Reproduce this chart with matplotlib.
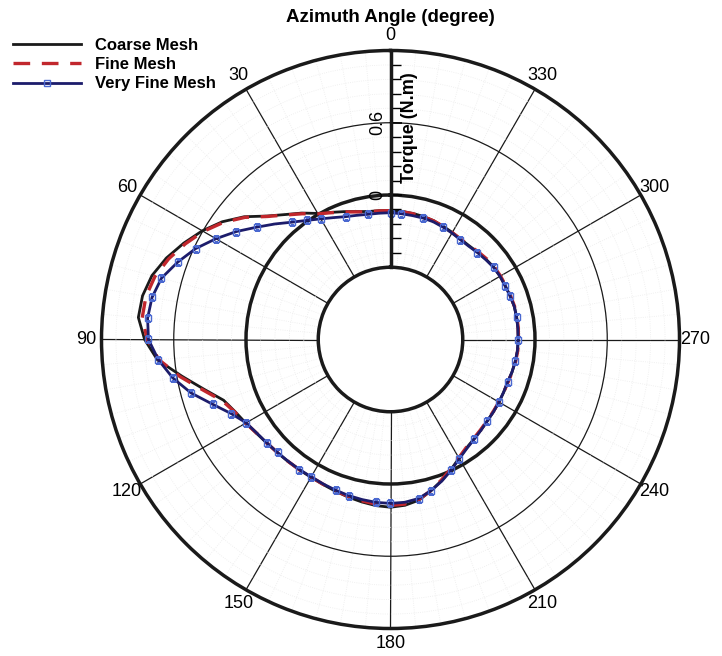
import numpy as np
import matplotlib
matplotlib.use("Agg")
import matplotlib.pyplot as plt
from matplotlib.lines import Line2D

plt.rcParams['font.family'] = ['Liberation Sans', 'DejaVu Sans']

# azimuth angle (deg) and torque (N.m) for the three meshes
azimuth = np.arange(0, 360, 5)

coarseTorque = [
    -0.128, -0.126, -0.121, -0.100, -0.070, -0.035, 0.009, 0.082, 0.155, 0.250, 0.386, 0.505,
    0.605, 0.694, 0.780, 0.851, 0.891, 0.902, 0.842, 0.743, 0.558, 0.401, 0.275, 0.222,
    0.188, 0.158, 0.140, 0.129, 0.123, 0.121, 0.121, 0.128, 0.140, 0.155, 0.170, 0.185,
    0.193, 0.182, 0.155, 0.100, 0.045, -0.010, -0.062, -0.100, -0.122, -0.138, -0.150, -0.156,
    -0.160, -0.163, -0.163, -0.155, -0.147, -0.141, -0.139, -0.137, -0.136, -0.136, -0.142, -0.148,
    -0.149, -0.153, -0.164, -0.175, -0.184, -0.183, -0.174, -0.163, -0.150, -0.142, -0.137, -0.131]

fineTorque = [
    -0.130, -0.128, -0.123, -0.103, -0.073, -0.038, 0.005, 0.075, 0.150, 0.245, 0.378, 0.495,
    0.595, 0.680, 0.760, 0.825, 0.862, 0.870, 0.820, 0.730, 0.575, 0.415, 0.287, 0.226,
    0.188, 0.157, 0.139, 0.128, 0.122, 0.120, 0.119, 0.126, 0.137, 0.149, 0.161, 0.172,
    0.178, 0.172, 0.150, 0.098, 0.040, -0.015, -0.066, -0.104, -0.126, -0.141, -0.152, -0.158,
    -0.161, -0.163, -0.162, -0.153, -0.145, -0.139, -0.137, -0.135, -0.134, -0.134, -0.139, -0.144,
    -0.145, -0.148, -0.158, -0.170, -0.182, -0.183, -0.175, -0.164, -0.152, -0.144, -0.139, -0.134]

veryFineTorque = [
    -0.147, -0.147, -0.144, -0.132, -0.114, -0.083, -0.043, 0.008, 0.072, 0.157, 0.251, 0.363,
    0.474, 0.586, 0.680, 0.769, 0.811, 0.825, 0.810, 0.735, 0.636, 0.515, 0.372, 0.258,
    0.184, 0.155, 0.138, 0.127, 0.121, 0.118, 0.117, 0.123, 0.132, 0.142, 0.150, 0.158,
    0.161, 0.157, 0.141, 0.100, 0.050, -0.004, -0.057, -0.095, -0.119, -0.136, -0.149, -0.155,
    -0.160, -0.164, -0.165, -0.156, -0.148, -0.142, -0.140, -0.138, -0.137, -0.136, -0.143, -0.149,
    -0.150, -0.155, -0.168, -0.179, -0.189, -0.188, -0.179, -0.170, -0.160, -0.156, -0.155, -0.152]

angleTicks = list(range(0, 360, 30))
rMin, rMax, rOrigin = -0.6, 1.2, -1.2


def closeLoop(values):
    """ Repeat the first point so the polar curve closes at 360 deg. """
    return np.append(values, values[0])


W, H = 722, 656
fig = plt.figure(figsize=(W / 100, H / 100), dpi=100)

# polar axes: 0 deg at top, angle increasing counter-clockwise
cx, cy, R = 390.5, 339.5, 289.0
ax = fig.add_axes([(cx - R) / W, (H - cy - R) / H, 2 * R / W, 2 * R / H],
                  projection='polar')
ax.set_theta_zero_location('N')
ax.set_theta_direction(1)
ax.set_rorigin(rOrigin)
ax.set_ylim(rMin, rMax)

theta = np.deg2rad(closeLoop(azimuth))
ax.plot(theta, closeLoop(coarseTorque), color='#1a1a1a', lw=2.0, zorder=3)
ax.plot(theta, closeLoop(fineTorque), color='#c1272d', lw=2.4,
        dashes=(5, 3.5), zorder=4)
ax.plot(theta, closeLoop(veryFineTorque), color='#1c1c6b', lw=2.0,
        marker='s', ms=5, mfc='none', mec='#4a68d0', mew=1.0,
        markevery=0.026, zorder=5)

# angular grid and ticks
ax.set_thetagrids(angleTicks, [str(a) for a in angleTicks], fontsize=13)
ax.set_xticks(np.deg2rad(np.arange(0, 360, 5)), minor=True)
ax.tick_params(axis='x', which='major', direction='in', length=11, width=2.5,
               pad=4)
ax.tick_params(axis='x', which='minor', direction='in', length=6, width=1.0)

# radial grid: thick circle at zero torque, thin one at 0.6
ax.set_yticks([0.0, 0.6])
ax.set_yticks(np.arange(-0.48, 1.2, 0.12), minor=True)
ax.set_yticklabels([])
ax.tick_params(axis='y', which='both', length=0)
ax.grid(which='major', color='#1a1a1a', lw=0.9, ls='-')
ax.grid(which='minor', color='#ececec', lw=0.6, ls=':')
ax.yaxis.get_gridlines()[0].set_linewidth(2.5)

for name in ('polar', 'inner'):
    ax.spines[name].set_linewidth(2.5)
    ax.spines[name].set_color('#1a1a1a')

# radial axis drawn along the 0 deg direction
rpx = R / (rMax - rOrigin)
yBottom = H - cy + (rMin - rOrigin) * rpx
axR = fig.add_axes([cx / W, yBottom / H, 0.01, (rMax - rMin) * rpx / H])
axR.set_ylim(rMin, rMax)
axR.patch.set_visible(False)
for side in ('top', 'right', 'bottom'):
    axR.spines[side].set_visible(False)
axR.spines['left'].set_linewidth(2.5)
axR.spines['left'].set_color('#1a1a1a')
axR.set_xticks([])
axR.set_yticks([0.0, 0.6])
axR.set_yticklabels(['0', '0.6'], fontsize=13, rotation=90, va='center')
axR.set_yticks(np.arange(-0.48, 1.2, 0.12), minor=True)
axR.tick_params(axis='y', which='major', direction='in', length=8, width=1.2,
                pad=3)
axR.tick_params(axis='y', which='minor', direction='in', length=7, width=1.0)

fig.text(410 / W, 1 - 128 / H, 'Torque (N.m)', rotation=90, fontsize=13,
         fontweight='bold', ha='center', va='center')
fig.text(cx / W, 1 - 17 / H, 'Azimuth Angle (degree)', fontsize=13.5,
         fontweight='bold', ha='center', va='center')

handles = [
    Line2D([], [], color='#1a1a1a', lw=2.0),
    Line2D([], [], color='#c1272d', lw=2.4, dashes=(5, 3.5)),
    Line2D([], [], color='#1c1c6b', lw=2.0, marker='s', ms=5, mfc='none',
           mec='#4a68d0', mew=1.0),
]
leg = fig.legend(handles, ['Coarse Mesh', 'Fine Mesh', 'Very Fine Mesh'],
                 loc='upper left', bbox_to_anchor=(13 / W, 1 - 38 / H),
                 frameon=False, borderpad=0, borderaxespad=0,
                 handlelength=4.1, handletextpad=0.8, labelspacing=0.25,
                 prop={'weight': 'bold', 'size': 12})

fig.savefig('out.png', dpi=100, facecolor='white')
